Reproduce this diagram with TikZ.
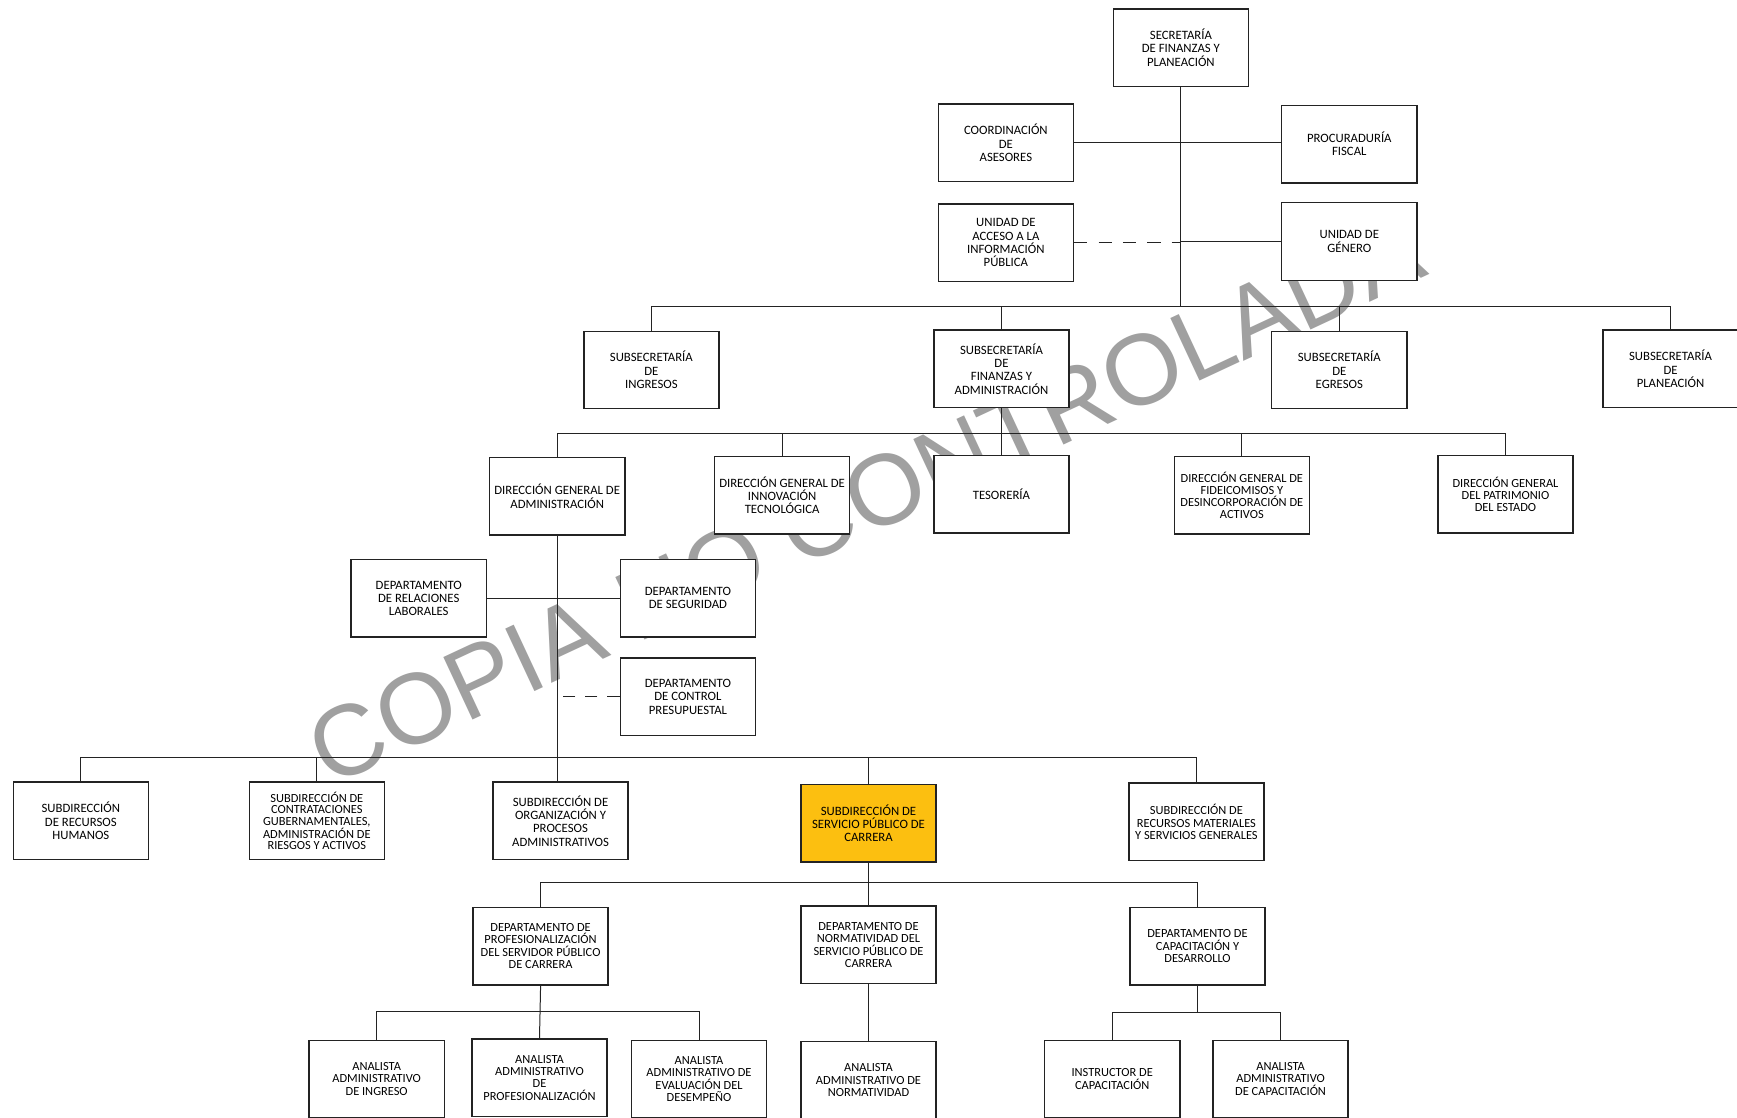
\documentclass[tikz,border=0pt]{standalone}
\usepackage{fontspec}
\setmainfont{Carlito}
\newfontfamily\wmfont{Liberation Sans}
\definecolor{boxline}{RGB}{35,35,35}
\definecolor{spcyellow}{RGB}{252,191,16}
\definecolor{wmgray}{RGB}{160,160,160}
\begin{document}
\begin{tikzpicture}[x=1pt,y=-1pt,
  orgbox/.style={draw=boxline,line width=1.3pt,fill=white,minimum width=122pt,minimum height=70pt,
    inner sep=1pt,align=center,font=\fontsize{11.5}{12}\selectfont},
  dense/.style={font=\fontsize{11.2}{11}\selectfont},
  link/.style={draw=boxline,line width=0.9pt},
  dlink/.style={link,dash pattern=on 12pt off 10pt}]
\useasboundingbox[fill=white] (0,0) rectangle (1568,1009);
% watermark (behind everything)
\node[rotate=25,text=wmgray,font=\wmfont\fontsize{90.5}{90.5}\selectfont,inner sep=0pt] (wm) at (781,451) {COPIA NO CONTROLADA};
% level 0-2
\node[orgbox] (sec) at (1066,43) {SECRETARÍA\\DE FINANZAS Y\\PLANEACIÓN};
\node[orgbox] (coord) at (908,129) {COORDINACIÓN\\DE\\ASESORES};
\node[orgbox] (proc) at (1218,130) {PROCURADURÍA\\FISCAL};
\node[orgbox] (uaip) at (908,219) {UNIDAD DE\\ACCESO A LA\\INFORMACIÓN\\PÚBLICA};
\node[orgbox] (ugen) at (1218,218) {UNIDAD DE\\GÉNERO};
% subsecretarias
\node[orgbox] (ssi) at (588,334) {SUBSECRETARÍA\\DE\\INGRESOS};
\node[orgbox] (ssfa) at (904,333) {SUBSECRETARÍA\\DE\\FINANZAS Y\\ADMINISTRACIÓN};
\node[orgbox] (sse) at (1209,334) {SUBSECRETARÍA\\DE\\EGRESOS};
\node[orgbox] (ssp) at (1508,333) {SUBSECRETARÍA\\DE\\PLANEACIÓN};
% direcciones generales
\node[orgbox] (dga) at (503,448) {DIRECCIÓN GENERAL DE\\ADMINISTRACIÓN};
\node[orgbox] (dgit) at (706,447) {DIRECCIÓN GENERAL DE\\INNOVACIÓN\\TECNOLÓGICA};
\node[orgbox] (tes) at (904,446) {TESORERÍA};
\node[orgbox,dense] (dgfid) at (1121,447) {DIRECCIÓN GENERAL DE\\FIDEICOMISOS Y\\DESINCORPORACIÓN DE\\ACTIVOS};
\node[orgbox,dense] (dgpat) at (1359,446) {DIRECCIÓN GENERAL\\DEL PATRIMONIO\\DEL ESTADO};
% departamentos DGA
\node[orgbox] (drl) at (378,540) {DEPARTAMENTO\\DE RELACIONES\\LABORALES};
\node[orgbox] (dseg) at (621,540) {DEPARTAMENTO\\DE SEGURIDAD};
\node[orgbox] (dcp) at (621,629) {DEPARTAMENTO\\DE CONTROL\\PRESUPUESTAL};
% subdirecciones
\node[orgbox] (srh) at (73,741) {SUBDIRECCIÓN\\DE RECURSOS\\HUMANOS};
\node[orgbox,font=\fontsize{11.2}{10}\selectfont] (sc) at (286,741) {SUBDIRECCIÓN DE\\CONTRATACIONES\\GUBERNAMENTALES,\\ADMINISTRACIÓN DE\\RIESGOS Y ACTIVOS};
\node[orgbox] (sorg) at (506,741) {SUBDIRECCIÓN DE\\ORGANIZACIÓN Y\\PROCESOS\\ADMINISTRATIVOS};
\node[orgbox,fill=spcyellow] (sspc) at (784,743) {SUBDIRECCIÓN DE\\SERVICIO PÚBLICO DE\\CARRERA};
\node[orgbox,dense] (srmsg) at (1080,742) {SUBDIRECCIÓN DE\\RECURSOS MATERIALES\\Y SERVICIOS GENERALES};
% departamentos SPC
\node[orgbox,dense] (dprof) at (488,854) {DEPARTAMENTO DE\\PROFESIONALIZACIÓN\\DEL SERVIDOR PÚBLICO\\DE  CARRERA};
\node[orgbox,dense] (dnorm) at (784,853) {DEPARTAMENTO DE\\NORMATIVIDAD DEL\\SERVICIO PÚBLICO DE\\CARRERA};
\node[orgbox,dense] (dcap) at (1081,854) {DEPARTAMENTO DE\\CAPACITACIÓN Y\\DESARROLLO};
% analistas
\node[orgbox,dense] (a1) at (340,974) {ANALISTA\\ADMINISTRATIVO\\DE INGRESO};
\node[orgbox,dense] (a2) at (487,973) {ANALISTA\\ADMINISTRATIVO\\DE\\PROFESIONALIZACIÓN};
\node[orgbox,dense] (a3) at (631,974) {ANALISTA\\ADMINISTRATIVO DE\\EVALUACIÓN DEL\\DESEMPEÑO};
\node[orgbox,dense] (a4) at (784,975) {ANALISTA\\ADMINISTRATIVO DE\\NORMATIVIDAD};
\node[orgbox,dense] (ins) at (1004,974) {INSTRUCTOR DE\\CAPACITACIÓN};
\node[orgbox,dense] (a6) at (1156,974) {ANALISTA\\ADMINISTRATIVO\\DE CAPACITACIÓN};
% bus coordinates
\coordinate (bus1) at (1066,277);
\coordinate (bus2) at (905,391);
\coordinate (bus3) at (505,684);
\coordinate (bus4) at (786,797);
\coordinate (bus5) at (488,913);
\coordinate (bus6) at (1081,914);
% connectors
\draw[link] (sec.south) -- (bus1);
\draw[link] (coord.east) -- (coord.east -| proc.west);
\draw[dlink] (uaip.east) -- (uaip.east -| sec.south);
\draw[link] (ugen.west) -- (ugen.west -| sec.south);
\draw[link] (ssi.north) |- (bus1) -| (ssp.north);
\draw[link] (ssfa.north) -- (ssfa.north |- bus1);
\draw[link] (sse.north) -- (sse.north |- bus1);
\draw[link] (ssfa.south) -- (tes.north);
\draw[link] (dga.north) |- (bus2) -| (dgpat.north);
\draw[link] (dgit.north) -- (dgit.north |- bus2);
\draw[link] (dgfid.north) -- (dgfid.north |- bus2);
\draw[link] (dga.south) -- (dga.south |- sorg.north);
\draw[link] (drl.east) -- (dseg.west);
\draw[link,dash pattern=on 11pt off 9pt] (dcp.west) -- (dcp.west -| dga.south);
\draw[link] (srh.north) |- (bus3) -| (srmsg.north);
\draw[link] (sc.north) -- (sc.north |- bus3);
\draw[link] (sspc.north) -- (sspc.north |- bus3);
\draw[link] (sspc.south) -- (dnorm.north);
\draw[link] (dprof.north) |- (bus4) -| (dcap.north);
\draw[link] (dprof.south) -- (a2.north);
\draw[link] (a1.north) |- (bus5) -| (a3.north);
\draw[link] (dnorm.south) -- (a4.north);
\draw[link] (dcap.south) -- (bus6);
\draw[link] (ins.north) |- (bus6) -| (a6.north);
\end{tikzpicture}
\end{document}
